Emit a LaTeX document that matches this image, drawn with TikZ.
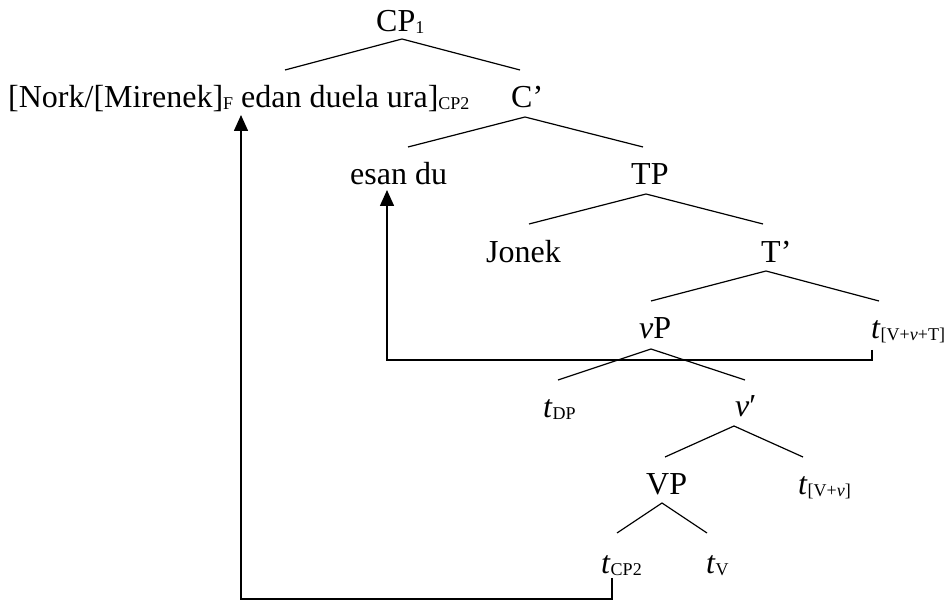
\documentclass[tikz,border=0pt]{standalone}
\usepackage{fontspec}
\setmainfont{Liberation Serif}
\usetikzlibrary{arrows.meta}
\newcommand{\sbx}[1]{\raisebox{-1.5pt}{\fontsize{18}{18}\selectfont #1}}
\newcommand{\tr}{\textit{t}}
\begin{document}
\begin{tikzpicture}[x=1pt,y=-1pt,
  lbl/.style={anchor=base west,inner sep=0pt,font=\fontsize{32}{32}\selectfont},
  br/.style={line width=1.2pt},
  mv/.style={line width=1.5pt,-{Triangle[length=16pt,width=14pt]}}]
\useasboundingbox (0,0) rectangle (946,601);
% labels
\node[lbl] (cp1) at (376,32) {CP\sbx{1}};
\node[lbl] (cp2) at (8,108) {[Nork/[Mirenek]\sbx{F} edan duela ura]\sbx{CP2}};
\node[lbl] (cbar) at (511,108) {C’};
\node[lbl] (esan) at (350,185) {esan du};
\node[lbl] (tp) at (631,185) {TP};
\node[lbl] (jonek) at (486,263) {Jonek};
\node[lbl] (tbar) at (761,263) {T’};
\node[lbl] (vp) at (639,339) {\textit{v}P};
\node[lbl] (tvvt) at (871,339) {\tr\sbx{[V+\textit{v}+T]}};
\node[lbl] (tdp) at (543,418) {\tr\sbx{DP}};
\node[lbl] (vbar) at (735,417) {\textit{v}′};
\node[lbl] (vvp) at (646,495) {VP};
\node[lbl] (tvv) at (798,495) {\tr\sbx{[V+\textit{v}]}};
\node[lbl] (tcp2) at (601,574) {\tr\sbx{CP2}};
\node[lbl] (tv) at (706,574) {\tr\sbx{V}};
% branch points
\coordinate (cp1a) at (402,39);  \coordinate (cp1l) at (285,70);  \coordinate (cp1r) at (520,70);
\coordinate (cba)  at (525,117); \coordinate (cbl)  at (408,147); \coordinate (cbr)  at (643,147);
\coordinate (tpa)  at (646,194); \coordinate (tpl)  at (529,224); \coordinate (tpr)  at (763,224);
\coordinate (tba)  at (766,271); \coordinate (tbl)  at (651,301); \coordinate (tbr)  at (879,301);
\coordinate (vpa)  at (651,349); \coordinate (vpl)  at (558,380); \coordinate (vpr)  at (745,380);
\coordinate (vba)  at (734,426); \coordinate (vbl)  at (665,457); \coordinate (vbr)  at (803,457);
\coordinate (vva)  at (662,503); \coordinate (vvl)  at (617,533); \coordinate (vvr)  at (707,533);
\draw[br] (cp1l) -- (cp1a) -- (cp1r);
\draw[br] (cbl) -- (cba) -- (cbr);
\draw[br] (tpl) -- (tpa) -- (tpr);
\draw[br] (tbl) -- (tba) -- (tbr);
\draw[br] (vpl) -- (vpa) -- (vpr);
\draw[br] (vbl) -- (vba) -- (vbr);
\draw[br] (vvl) -- (vva) -- (vvr);
% movement arrows
\coordinate (m1s) at (612,578); \coordinate (m1c) at (612,599);
\coordinate (m1d) at (241,599); \coordinate (m1e) at (241,115);
\draw[mv] (m1s) -- (m1c) -- (m1d) -- (m1e);
\coordinate (m2s) at (872,350); \coordinate (m2c) at (872,360);
\coordinate (m2d) at (387,360); \coordinate (m2e) at (387,190);
\draw[mv] (m2s) -- (m2c) -- (m2d) -- (m2e);
\end{tikzpicture}
\end{document}
